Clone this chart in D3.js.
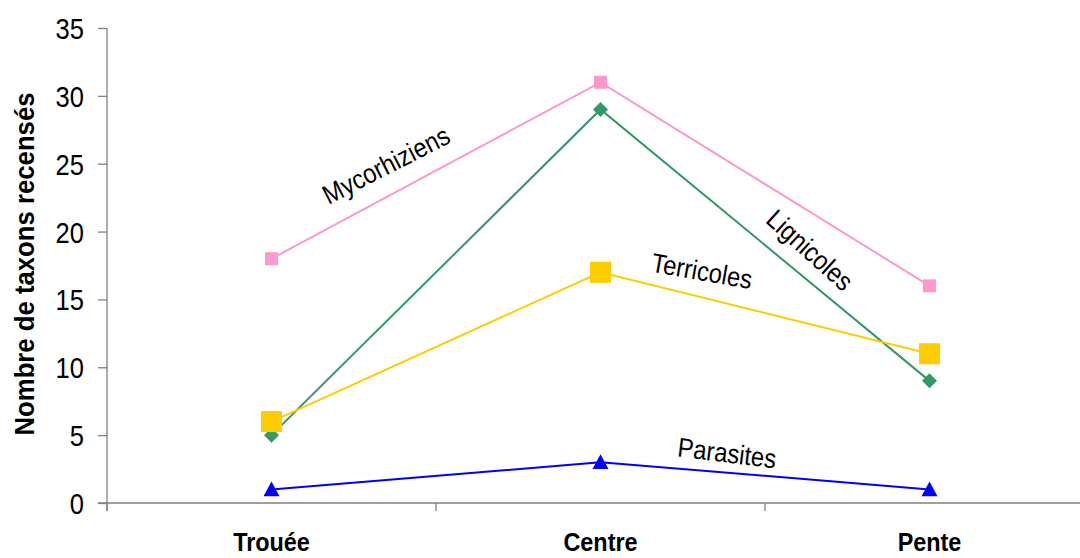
<!DOCTYPE html>
<html><head><meta charset="utf-8">
<script src="https://cdn.jsdelivr.net/npm/d3@7"></script>
<style>body{margin:0;background:#fff}svg{display:block}</style>
</head><body>
<svg id="c" width="1080" height="558"></svg>
<script>
const categories = ["Trouée", "Centre", "Pente"];
const mycorhiziens = [18, 31, 16];
const lignicoles = [5, 29, 9];
const terricoles = [6, 17, 11];
const parasites = [1, 3, 1];
const yTicks = [0, 5, 10, 15, 20, 25, 30, 35];

(function () {
const series = [
  {name: "Mycorhiziens", values: mycorhiziens, color: "#FF99CC", shape: "square", size: 13},
  {name: "Lignicoles", values: lignicoles, color: "#339966", shape: "diamond", size: 15},
  {name: "Terricoles", values: terricoles, color: "#FFCC00", shape: "square", size: 21},
  {name: "Parasites", values: parasites, color: "#0000FF", shape: "triangle", size: 16}
];
const labels = [
  {text: "Mycorhiziens", x: 386, y: 165, rot: -27},
  {text: "Lignicoles", x: 810, y: 250, rot: 42},
  {text: "Terricoles", x: 702, y: 271, rot: 10},
  {text: "Parasites", x: 727, y: 453, rot: 7}
];

const svg = d3.select("#c");
const mLeft = 107, mBottom = 503, mTop = 28;
const x = d3.scaleBand().domain(categories).range([mLeft, mLeft + 329 * 3]);
const y = d3.scaleLinear().domain([0, 35]).range([mBottom, mTop]);
const font = "'Liberation Sans', Arial, sans-serif";

const yAxis = svg.append("g").attr("transform", `translate(${mLeft},0)`)
  .call(d3.axisLeft(y).tickValues(yTicks).tickSize(9).tickSizeOuter(0));
yAxis.select(".domain").attr("stroke", "#808080").attr("stroke-width", 1.3)
  .attr("d", `M0,${mTop}V${mBottom + 8}`);
yAxis.selectAll(".tick line").attr("stroke", "#808080").attr("stroke-width", 1.3);
yAxis.selectAll(".tick text").attr("font-family", font).attr("font-size", 29).attr("fill", "#000")
  .attr("x", 0).attr("dy", "0.36em").attr("transform", "translate(-23,0) scale(0.88,1)");

const xAxis = svg.append("g").attr("transform", `translate(0,${mBottom})`)
  .call(d3.axisBottom(x).tickSize(0).tickPadding(30));
xAxis.select(".domain").attr("stroke", "#808080").attr("stroke-width", 1.3)
  .attr("d", `M${mLeft - 9},0H${mLeft + 329 * 3}`);
xAxis.selectAll(".tick text").attr("font-family", font).attr("font-size", 26)
  .attr("font-weight", "bold").attr("fill", "#000").attr("transform", "scale(0.9,1)");
const bounds = categories.map(c => x(c)).concat([x(categories[2]) + x.bandwidth()]);
xAxis.selectAll(".bt").data(bounds).enter().append("line")
  .attr("x1", d => d).attr("x2", d => d).attr("y1", 0).attr("y2", 8)
  .attr("stroke", "#808080").attr("stroke-width", 1.3);

svg.append("text").attr("transform", `translate(34,264) rotate(-90)`)
  .attr("text-anchor", "middle").attr("font-family", font).attr("font-size", 28)
  .attr("font-weight", "bold").attr("textLength", 343).attr("lengthAdjust", "spacingAndGlyphs")
  .text("Nombre de taxons recensés");

const cx = c => x(c) + x.bandwidth() / 2;
const line = d3.line().x((d, i) => cx(categories[i])).y(d => y(d));

series.forEach(s => {
  svg.append("path").attr("d", line(s.values)).attr("fill", "none")
    .attr("stroke", s.color).attr("stroke-width", 2);
});
series.forEach(s => {
  const g = svg.append("g");
  s.values.forEach((v, i) => {
    const px = cx(categories[i]), py = y(v), h = s.size / 2;
    if (s.shape === "square") {
      g.append("rect").attr("x", px - h).attr("y", py - h).attr("width", s.size).attr("height", s.size).attr("fill", s.color);
    } else if (s.shape === "diamond") {
      g.append("path").attr("d", `M${px},${py - h}L${px + h},${py}L${px},${py + h}L${px - h},${py}Z`).attr("fill", s.color);
    } else {
      g.append("path").attr("d", `M${px},${py - h}L${px + h},${py + h * 0.85}L${px - h},${py + h * 0.85}Z`).attr("fill", s.color);
    }
  });
});

labels.forEach(l => {
  svg.append("text").attr("transform", `translate(${l.x},${l.y}) rotate(${l.rot}) scale(0.88,1)`)
    .attr("text-anchor", "middle").attr("dy", "0.35em").attr("font-family", font)
    .attr("font-size", 27).attr("fill", "#000").text(l.text);
});
})();
</script>
</body></html>
